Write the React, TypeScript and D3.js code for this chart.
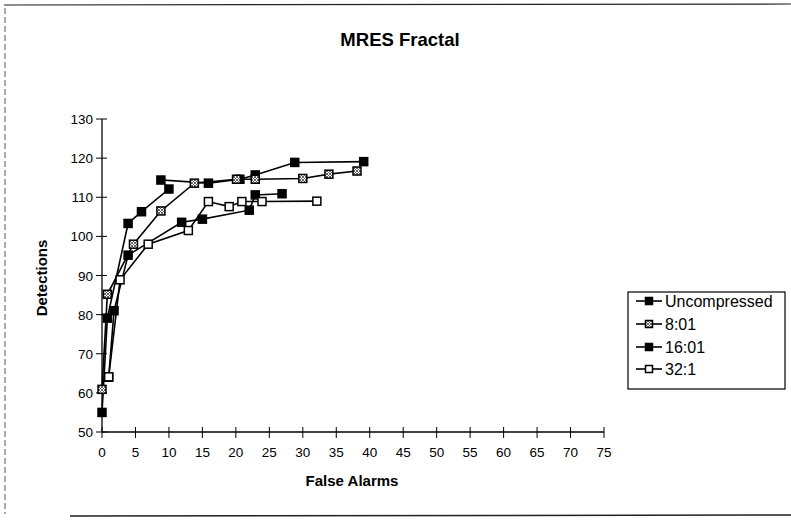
import React from "react";
import * as d3 from "d3";

const xTicks = [0, 5, 10, 15, 20, 25, 30, 35, 40, 45, 50, 55, 60, 65, 70, 75];
const yTicks = [50, 60, 70, 80, 90, 100, 110, 120, 130];

const seriesNames = ["Uncompressed", "8:01", "16:01", "32:1"];

const uncompressedX = [0, 0.8, 3.9, 5.9, 10, 8.8, 15.9, 20.6, 22.9, 28.8, 39.1];
const uncompressedY = [55, 79.1, 103.3, 106.3, 112.1, 114.4, 113.6, 114.6, 115.7, 118.9, 119.1];

const s8X = [0, 0.8, 4.7, 8.8, 13.8, 20.1, 22.9, 30, 33.9, 38.1];
const s8Y = [60.9, 85.2, 98, 106.5, 113.6, 114.6, 114.6, 114.8, 115.9, 116.7];

const s16X = [1, 1.8, 3.9, 11.9, 15, 22, 22.9, 26.9];
const s16Y = [64, 81, 95.2, 103.6, 104.4, 106.7, 110.6, 110.9];

const s32X = [1, 2.7, 6.9, 12.9, 15.9, 19, 20.9, 23.9, 32.1];
const s32Y = [64.1, 88.9, 98, 101.5, 108.9, 107.6, 108.9, 108.9, 109];

const seriesData = [
  { name: seriesNames[0], xs: uncompressedX, ys: uncompressedY, marker: "black" },
  { name: seriesNames[1], xs: s8X, ys: s8Y, marker: "hatch" },
  { name: seriesNames[2], xs: s16X, ys: s16Y, marker: "black" },
  { name: seriesNames[3], xs: s32X, ys: s32Y, marker: "white" },
];

const FONT = "'Liberation Sans', Arial, Helvetica, sans-serif";

function Marker({ x, y, kind, size = 8 }: { x: number; y: number; kind: string; size?: number }) {
  const fill = kind === "black" ? "#000" : kind === "hatch" ? "url(#hatch)" : "#fff";
  return (
    <rect
      x={x - size / 2}
      y={y - size / 2}
      width={size}
      height={size}
      fill={fill}
      stroke="#000"
      strokeWidth={1.5}
    />
  );
}

export default function App() {
  const W = 791;
  const H = 522;
  const x = d3.scaleLinear().domain([0, 75]).range([102, 604]);
  const y = d3.scaleLinear().domain([50, 130]).range([432, 119]);
  const line = d3
    .line<[number, number]>()
    .x((d) => x(d[0]))
    .y((d) => y(d[1]));

  const legendX = 628;
  const legendY = 292;
  const legendRows = [301, 324, 347, 369];

  return (
    <svg
      width={W}
      height={H}
      style={{ position: "absolute", left: 0, top: 0, background: "#fff" }}
      fontFamily={FONT}
    >
      <defs>
        <pattern id="hatch" width="3" height="3" patternUnits="userSpaceOnUse">
          <rect width="3" height="3" fill="#fff" />
          <path d="M0,0 L3,3 M3,0 L0,3" stroke="#555" strokeWidth={0.9} />
        </pattern>
      </defs>
      <rect x={0} y={0} width={W} height={H} fill="#fff" />
      {/* outer frame */}
      <line x1={4} y1={5} x2={791} y2={4} stroke="#222" strokeWidth={1.2} />
      <line x1={70} y1={516} x2={791} y2={515} stroke="#222" strokeWidth={1.5} />
      <line x1={5} y1={8} x2={5} y2={514} stroke="#555" strokeWidth={1} strokeDasharray="6,3" />

      <text x={400} y={46} textAnchor="middle" fontSize={18.5} fontWeight="bold">
        MRES Fractal
      </text>

      {/* y axis */}
      <line x1={102} y1={y(130)} x2={102} y2={y(50)} stroke="#000" strokeWidth={1.3} />
      {yTicks.map((t) => (
        <g key={"y" + t}>
          <line x1={96} x2={107} y1={y(t)} y2={y(t)} stroke="#000" strokeWidth={1} />
          <text x={93} y={y(t) + 5} textAnchor="end" fontSize={13.5}>
            {t}
          </text>
        </g>
      ))}
      {/* x axis */}
      <line x1={x(0)} y1={432} x2={x(75)} y2={432} stroke="#000" strokeWidth={1.3} />
      {xTicks.map((t) => (
        <g key={"x" + t}>
          <line x1={x(t)} x2={x(t)} y1={427} y2={438} stroke="#000" strokeWidth={1} />
          <text x={x(t)} y={457} textAnchor="middle" fontSize={13.5}>
            {t}
          </text>
        </g>
      ))}

      <text x={352} y={486} textAnchor="middle" fontSize={15} fontWeight="bold">
        False Alarms
      </text>
      <text
        transform={`translate(47,${278}) rotate(-90)`}
        textAnchor="middle"
        fontSize={15}
        fontWeight="bold"
      >
        Detections
      </text>

      {seriesData.map((s) => {
        const pts: [number, number][] = s.xs.map((v, i) => [v, s.ys[i]]);
        return (
          <g key={s.name}>
            <path d={line(pts) || ""} fill="none" stroke="#000" strokeWidth={1.6} />
            {pts.map((p, i) => (
              <Marker key={i} x={x(p[0])} y={y(p[1])} kind={s.marker} />
            ))}
          </g>
        );
      })}

      {/* legend */}
      <rect x={legendX} y={legendY} width={157} height={97} fill="#fff" stroke="#000" strokeWidth={1.2} />
      {seriesData.map((s, i) => (
        <g key={"lg" + s.name}>
          <line x1={636} x2={662} y1={legendRows[i]} y2={legendRows[i]} stroke="#000" strokeWidth={1.6} />
          <Marker x={649} y={legendRows[i]} kind={s.marker} size={7} />
          <text x={665} y={legendRows[i] + 5.5} fontSize={16}>
            {s.name}
          </text>
        </g>
      ))}
    </svg>
  );
}
